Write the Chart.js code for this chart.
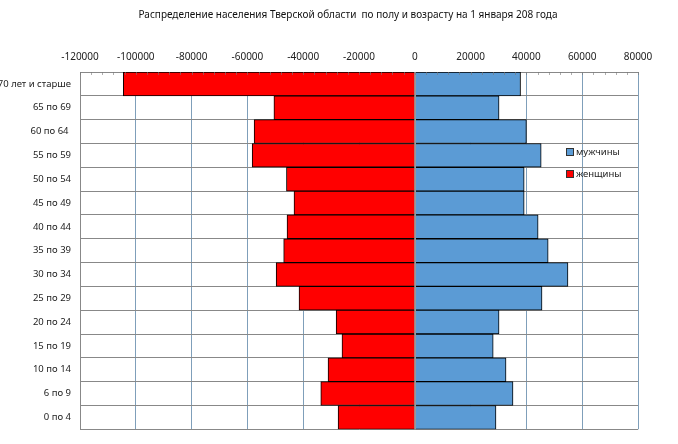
<!DOCTYPE html>
<html>
<head>
<meta charset="utf-8">
<script src="https://cdn.jsdelivr.net/npm/chart.js@4/dist/chart.umd.min.js"></script>
<style>
    html, body { margin: 0; padding: 0; background: #fff; }
    #wrap { width: 678px; height: 444px; }
</style>
</head>
<body>
<div id="wrap"><canvas id="pyramid" width="678" height="444"></canvas></div>
<script>
// Age groups, top to bottom
const ageGroups = ['70 лет и старше', '65 по 69', '60 по 64 ', '55 по 59', '50 по 54', '45 по 49',
    '40 по 44', '35 по 39', '30 по 34', '25 по 29', '20 по 24', '15 по 19', '10 по 14', '6 по 9', '0 по 4'];

// Men (positive side)
const men = [37900, 30200, 40000, 45300, 39200, 39200, 44200, 47800, 54900, 45600, 30200, 28100, 32700, 35200, 29100];

// Women (negative side)
const women = [-104500, -50500, -57600, -58300, -46000, -43300, -45800, -47000, -49700, -41500, -28200, -26100, -31100, -33700, -27500];

const xTicks = [-120000, -100000, -80000, -60000, -40000, -20000, 0, 20000, 40000, 60000, 80000];

const chartTitle = 'Распределение населения Тверской области  по полу и возрасту на 1 января 208 года';

const FONT = '"Noto Sans", "DejaVu Sans", sans-serif';

// Title, centred a bit right of the canvas middle like the original
const titlePlugin = {
    id: 'titlePlugin',
    afterDraw(chart) {
        const ctx = chart.ctx;
        ctx.save();
        ctx.font = '10px ' + FONT;
        ctx.fillStyle = '#111';
        ctx.textAlign = 'center';
        ctx.textBaseline = 'middle';
        ctx.fillText(chartTitle, 348, 15);
        ctx.restore();
    }
};

// Legend drawn inside the plot area
const insideLegend = {
    id: 'insideLegend',
    afterDraw(chart) {
        const ctx = chart.ctx;
        const x = 566;
        let y = 152;
        ctx.save();
        ctx.font = '9.5px ' + FONT;
        ctx.textBaseline = 'middle';
        chart.data.datasets.forEach(ds => {
            ctx.fillStyle = ds.backgroundColor;
            ctx.fillRect(x, y - 3.5, 7, 7);
            ctx.strokeStyle = '#333';
            ctx.lineWidth = 1;
            ctx.strokeRect(x + 0.5, y - 3.5, 7, 7);
            ctx.fillStyle = '#222';
            ctx.fillText(ds.label, x + 10, y);
            y += 22;
        });
        ctx.restore();
    }
};

// Gray zero line over the bars and small minor ticks along the top border
const axisExtras = {
    id: 'axisExtras',
    afterDatasetsDraw(chart) {
        const ctx = chart.ctx;
        const xs = chart.scales.x;
        const area = chart.chartArea;
        ctx.save();
        ctx.strokeStyle = '#999';
        ctx.lineWidth = 1;
        const px = Math.round(xs.getPixelForValue(0)) + 0.5;
        ctx.beginPath();
        ctx.moveTo(px, area.top);
        ctx.lineTo(px, area.bottom);
        ctx.stroke();

        ctx.strokeStyle = 'rgba(120,120,120,0.6)';
        ctx.beginPath();
        for (let v = xs.min; v <= xs.max; v += 4000) {
            const mx = Math.round(xs.getPixelForValue(v)) + 0.5;
            ctx.moveTo(mx, area.top);
            ctx.lineTo(mx, area.top + 3);
        }
        ctx.stroke();
        ctx.restore();
    }
};

new Chart(document.getElementById('pyramid'), {
    type: 'bar',
    data: {
        labels: ageGroups,
        datasets: [
            {
                label: 'мужчины',
                data: men,
                backgroundColor: '#5b9bd5',
                borderColor: '#000',
                borderWidth: 1
            },
            {
                label: 'женщины',
                data: women,
                backgroundColor: '#ff0000',
                borderColor: '#000',
                borderWidth: 1
            }
        ]
    },
    options: {
        indexAxis: 'y',
        responsive: false,
        animation: false,
        devicePixelRatio: 1,
        layout: { padding: { left: 0, right: 40, top: 21, bottom: 14 } },
        datasets: { bar: { barPercentage: 1, categoryPercentage: 1 } },
        plugins: {
            legend: { display: false },
            tooltip: { enabled: false },
            title: { display: false }
        },
        scales: {
            x: {
                position: 'top',
                stacked: true,
                min: -120000,
                max: 80000,
                afterFit(s) { s.height = 51; },
                afterBuildTicks(s) { s.ticks = xTicks.map(v => ({ value: v })); },
                ticks: {
                    color: '#222',
                    padding: 9,
                    maxRotation: 0,
                    font: { family: FONT, size: 10 },
                    callback: v => String(v)
                },
                grid: {
                    drawTicks: false,
                    color: ctx => (ctx.tick && ctx.tick.value === 0) ? '#999' : '#7f9fba'
                },
                border: { color: '#888' }
            },
            y: {
                stacked: true,
                afterFit(s) { s.width = 80; },
                ticks: {
                    color: '#222',
                    padding: 9,
                    font: { family: FONT, size: 9.5 }
                },
                grid: { drawTicks: false, color: '#888' },
                border: { color: '#888' }
            }
        }
    },
    plugins: [titlePlugin, insideLegend, axisExtras]
});
</script>
</body>
</html>
